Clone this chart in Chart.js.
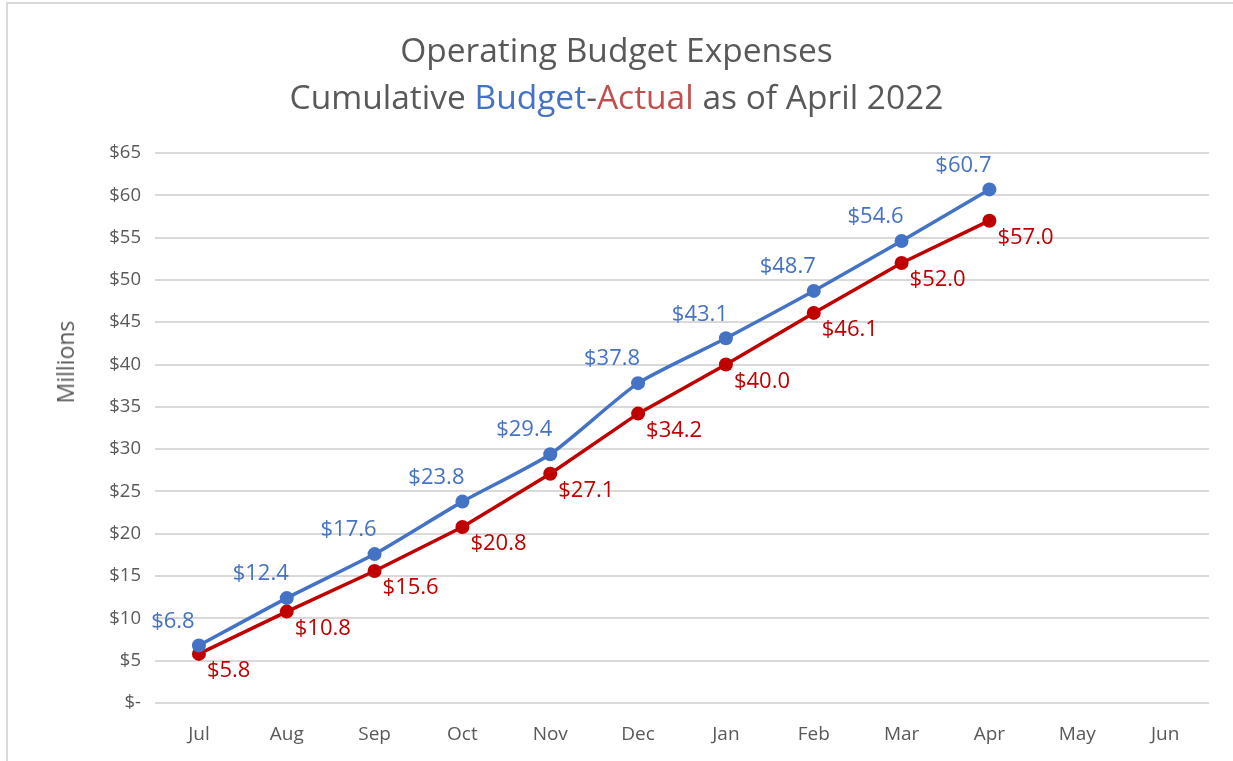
<!DOCTYPE html>
<html>
<head>
<meta charset="utf-8">
<script src="https://cdn.jsdelivr.net/npm/chart.js@4"></script>
<style>
  html, body { margin: 0; padding: 0; background: #fff; }
  #wrap { position: relative; width: 1233px; height: 761px; overflow: hidden; font-family: 'Open Sans', sans-serif; }
  #frame { position: absolute; left: 6px; top: 2px; right: -10px; bottom: -10px; border: 2px solid #d9d9d9; }
  #title { position: absolute; left: 0; width: 1233px; top: 26px; text-align: center; color: #595959; font-size: 33.5px; line-height: 47px; }
  #title .b { color: #4472C4; }
  #title .a { color: #C0504D; }
  #ytitle { position: absolute; left: 65px; top: 362px; transform: translate(-50%, -50%) rotate(-90deg); color: #595959; font-size: 23px; white-space: nowrap; }
  canvas { position: absolute; left: 0; top: 0; }
</style>
</head>
<body>
<div id="wrap">
  <div id="frame"></div>
  <canvas id="chart" width="1233" height="761"></canvas>
  <div id="title">Operating Budget Expenses<br>Cumulative <span class="b">Budget</span>-<span class="a">Actual</span> as of April 2022</div>
  <div id="ytitle">Millions</div>
</div>
<script>
/* Operating budget — cumulative budget vs actual, $ millions */
const months  = ['Jul', 'Aug', 'Sep', 'Oct', 'Nov', 'Dec', 'Jan', 'Feb', 'Mar', 'Apr', 'May', 'Jun'];
const budget  = [6.8, 12.4, 17.6, 23.8, 29.4, 37.8, 43.1, 48.7, 54.6, 60.7, null, null];
const actual  = [5.8, 10.8, 15.6, 20.8, 27.1, 34.2, 40.0, 46.1, 52.0, 57.0, null, null];
const yTicks  = [0, 5, 10, 15, 20, 25, 30, 35, 40, 45, 50, 55, 60, 65];

const BLUE = '#4472C4', RED = '#C00000', GREY = '#595959';
const money = v => '$' + v.toFixed(1);

// Excel-style point labels: budget up-left, actual down-right
const pointLabels = {
  id: 'pointLabels',
  afterDatasetsDraw(chart) {
    const ctx = chart.ctx;
    ctx.save();
    ctx.font = "22px 'Open Sans', sans-serif";
    ctx.textBaseline = 'middle';
    chart.data.datasets.forEach((ds, i) => {
      const meta = chart.getDatasetMeta(i);
      meta.data.forEach((pt, j) => {
        const v = ds.data[j];
        if (v === null || v === undefined) return;
        ctx.fillStyle = ds.labelColor;
        if (ds.labelSide === 'above') {
          ctx.textAlign = 'center';
          ctx.fillText(money(v), pt.x - 26, pt.y - 24);
        } else {
          ctx.textAlign = 'left';
          ctx.fillText(money(v), pt.x + 8, pt.y + 17);
        }
      });
    });
    ctx.restore();
  }
};

new Chart(document.getElementById('chart'), {
  type: 'line',
  data: {
    labels: months,
    datasets: [
      {
        label: 'Budget', data: budget, labelColor: BLUE, labelSide: 'above',
        borderColor: BLUE, backgroundColor: BLUE, borderWidth: 3.5, tension: 0.2,
        pointRadius: 7, pointHoverRadius: 7, pointBackgroundColor: BLUE, pointBorderWidth: 0,
      },
      {
        label: 'Actual', data: actual, labelColor: RED, labelSide: 'below',
        borderColor: RED, backgroundColor: RED, borderWidth: 3.5, tension: 0,
        pointRadius: 7, pointHoverRadius: 7, pointBackgroundColor: RED, pointBorderWidth: 0,
      }
    ]
  },
  options: {
    responsive: false, animation: false,
    layout: { padding: { top: 153, right: 24, left: 0, bottom: 0 } },
    plugins: { legend: { display: false }, title: { display: false }, tooltip: { enabled: false } },
    scales: {
      x: {
        offset: true,
        grid: { display: false, offset: true },
        border: { display: false },
        ticks: { color: GREY, font: { family: "'Open Sans', sans-serif", size: 19 }, padding: 12 },
        afterFit: s => { s.height = 58; }
      },
      y: {
        min: 0, max: 65,
        grid: { color: '#d9d9d9', lineWidth: 2, drawTicks: false },
        border: { display: false },
        afterBuildTicks: s => { s.ticks = yTicks.map(v => ({ value: v })); },
        ticks: {
          color: GREY, font: { family: "'Open Sans', sans-serif", size: 18.5 }, padding: 14,
          callback: v => v === 0 ? '$-' : '$' + v
        },
        afterFit: s => { s.width = 155; }
      }
    }
  },
  plugins: [pointLabels]
});
</script>
</body>
</html>
